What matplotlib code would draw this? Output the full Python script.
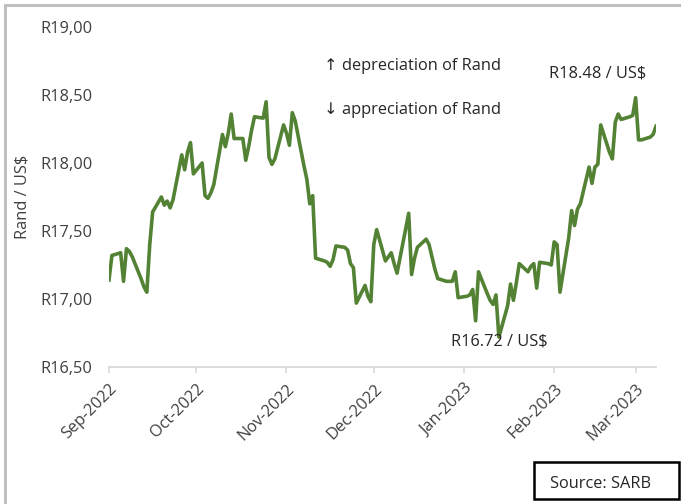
import matplotlib
matplotlib.use("Agg")
import matplotlib.pyplot as plt
import pandas as pd
from matplotlib.patches import Rectangle

# ---- data (business days, Rand per US$) ----
dates = pd.bdate_range("2022-09-01", "2023-03-08")
values = [
    # Sep 2022
    17.14, 17.32, 17.34, 17.13, 17.37, 17.35, 17.31, 17.15, 17.09, 17.05, 17.40,
    17.64, 17.75, 17.69, 17.72, 17.67, 17.73, 18.06, 17.95, 18.08, 18.15, 17.92,
    # Oct 2022
    18.00, 17.76, 17.74, 17.78, 17.84, 18.21, 18.12, 18.22, 18.36, 18.18, 18.18,
    18.02, 18.12, 18.24, 18.34, 18.33, 18.45, 18.04, 17.99, 18.03, 18.28,
    # Nov 2022
    18.22, 18.13, 18.37, 18.31, 17.98, 17.88, 17.70, 17.76, 17.30, 17.28, 17.27,
    17.24, 17.29, 17.39, 17.38, 17.36, 17.26, 17.23, 16.97, 17.10, 17.02, 16.98,
    # Dec 2022
    17.40, 17.51, 17.28, 17.31, 17.34, 17.26, 17.19, 17.52, 17.63, 17.18, 17.30,
    17.38, 17.44, 17.40, 17.31, 17.22, 17.15, 17.13, 17.13, 17.13, 17.20, 17.01,
    # Jan 2023
    17.02, 17.03, 17.07, 16.84, 17.20, 17.04, 16.99, 16.96, 17.03, 16.72, 16.95,
    17.11, 16.99, 17.12, 17.26, 17.20, 17.24, 17.26, 17.08, 17.27, 17.26, 17.25,
    # Feb 2023
    17.42, 17.40, 17.05, 17.45, 17.65, 17.54, 17.66, 17.70, 17.97, 17.85, 17.97,
    17.99, 18.28, 18.08, 18.03, 18.30, 18.36, 18.32, 18.34, 18.35,
    # Mar 2023
    18.48, 18.17, 18.17, 18.19, 18.21, 18.27,
]
yticks = [16.5, 17.0, 17.5, 18.0, 18.5, 19.0]
ytick_labels = ["R16,50", "R17,00", "R17,50", "R18,00", "R18,50", "R19,00"]
xtick_dates = pd.date_range("2022-09-01", "2023-03-01", freq="MS")
xtick_labels = [d.strftime("%b-%Y") for d in xtick_dates]

FONT = "Open Sans"
plt.rcParams["font.family"] = [FONT, "DejaVu Sans"]
FS = 11.8
TXT = "#262626"

W, H = 681, 504
fig = plt.figure(figsize=(W / 100, H / 100), dpi=100)
fig.patch.set_facecolor("white")

# outer frame (only top/left visible in the crop)
fig.add_artist(Rectangle((5 / W, -0.1), 1.2, 1 - 5 / H + 0.1, transform=fig.transFigure,
                         fill=False, edgecolor="#c0c0c0", linewidth=2.2))

ax = fig.add_axes([109 / W, 1 - 367 / H, (656 - 109) / W, (367 - 27) / H])
ax.plot(dates[:len(values)], values, color="#548235", linewidth=2.6, solid_joinstyle="round")

ax.set_ylim(16.5, 19.0)
ax.set_xlim(pd.Timestamp("2022-09-01"), pd.Timestamp("2023-03-08"))
ax.set_yticks(yticks)
ax.set_yticklabels(ytick_labels)
ax.set_xticks(xtick_dates)
ax.set_xticklabels(xtick_labels, rotation=45, ha="right", rotation_mode="anchor")

for s in ["top", "right", "left"]:
    ax.spines[s].set_visible(False)
ax.spines["bottom"].set_color("#d9d9d9")
ax.spines["bottom"].set_linewidth(1.3)
ax.tick_params(axis="y", length=0, pad=12, labelsize=FS, labelcolor="#404040")
ax.tick_params(axis="x", length=4, width=1.2, color="#d9d9d9", pad=6, labelsize=FS,
               labelcolor="#404040")

ax.set_ylabel("Rand / US$", fontsize=FS, color="#404040", labelpad=7)

ax.text(pd.Timestamp("2022-11-14"), 18.71, "↑ depreciation of Rand", fontsize=FS,
        color=TXT, va="center", ha="left")
ax.text(pd.Timestamp("2022-11-14"), 18.39, "↓ appreciation of Rand", fontsize=FS,
        color=TXT, va="center", ha="left")
ax.text(pd.Timestamp("2023-02-16"), 18.66, "R18.48 / US$", fontsize=FS,
        color=TXT, va="center", ha="center")
ax.text(pd.Timestamp("2023-01-13"), 16.69, "R16.72 / US$", fontsize=FS,
        color=TXT, va="center", ha="center")

# source box
fig.add_artist(Rectangle((534 / W, 1 - 499 / H), (679 - 534) / W, (499 - 462) / H,
                         transform=fig.transFigure, fill=False, edgecolor="black", linewidth=1.8))
fig.text(600 / W, 1 - 484 / H, "Source: SARB", fontsize=FS, color=TXT,
         ha="center", va="center")

fig.savefig("out.png", dpi=100, facecolor="white")
